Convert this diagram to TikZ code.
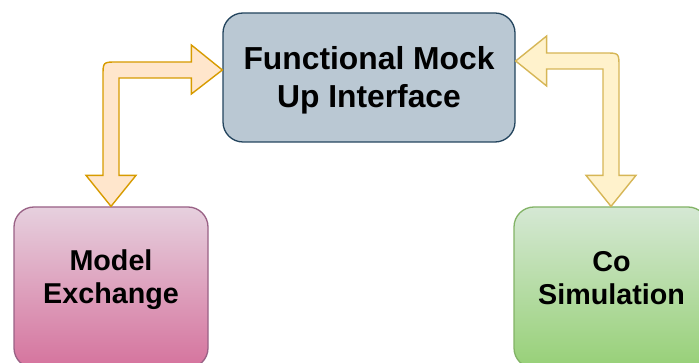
\documentclass[tikz,border=0pt]{standalone}
\usepackage{fontspec}
\setmainfont{Liberation Sans}
\usetikzlibrary{calc}

\definecolor{fmiFill}{HTML}{BAC8D3}
\definecolor{fmiLine}{HTML}{23445D}
\definecolor{mexTop}{HTML}{E6D0DE}
\definecolor{mexBot}{HTML}{D5739D}
\definecolor{mexLine}{HTML}{996185}
\definecolor{cosTop}{HTML}{D5E8D4}
\definecolor{cosBot}{HTML}{97D077}
\definecolor{cosLine}{HTML}{82B366}
\definecolor{peachFill}{HTML}{FFE6CC}
\definecolor{peachLine}{HTML}{D79B00}
\definecolor{sandFill}{HTML}{FFF2CC}
\definecolor{sandLine}{HTML}{D6B656}

\tikzset{
  box/.style={rectangle, rounded corners=20pt, inner sep=0pt, line width=1.3pt},
  bigtext/.style={anchor=base, inner sep=0pt, font=\fontsize{31.8}{38}\selectfont\bfseries},
  sidetext/.style={anchor=base, inner sep=0pt, font=\fontsize{28.7}{33}\selectfont\bfseries},
  flexL/.style={fill=peachFill, draw=peachLine, line width=1.4pt, line join=miter},
  flexR/.style={fill=sandFill, draw=sandLine, line width=1.4pt, line join=miter},
}

\begin{document}
\begin{tikzpicture}[x=1pt, y=-1pt]
\useasboundingbox (0,0) rectangle (699,363);
\begin{scope}
\clip (0,0) rectangle (699,363);

% the three blocks
\node[box, fill=fmiFill, draw=fmiLine, minimum width=292pt, minimum height=129pt] (fmi) at (369,77.5) {};
\node[box, top color=mexTop, bottom color=mexBot, draw=mexLine, minimum width=194pt, minimum height=161pt] (mex) at (111,287.5) {};
\node[box, top color=cosTop, bottom color=cosBot, draw=cosLine, minimum width=194pt, minimum height=161pt] (cos) at (611,287.5) {};

% block captions
\node[bigtext] (fmiA) at (369,69.5) {Functional Mock};
\node[bigtext] (fmiB) at (369,107.5) {Up Interface};
\node[sidetext] (mexA) at (111,271) {Model};
\node[sidetext] (mexB) at (111,304) {Exchange};
\node[sidetext] (cosA) at (611.5,272) {Co};
\node[sidetext] (cosB) at (611.5,305) {Simulation};

% double-headed bent block arrow: Model Exchange <-> FMI
\coordinate (ltipR) at (fmi.west |- 0,70);
\coordinate (ltipD) at (111,0 |- mex.north);
\coordinate (lbend) at (ltipD |- ltipR);
\draw[flexL] (ltipD) -- ++(25,-31) -- ++(-17,0)
  -- ($(lbend)+(8,8)$) -- ($(ltipR)+(-31,8)$) -- ++(0,16)
  -- (ltipR) -- ++(-31,-25) -- ++(0,17)
  -- ($(lbend)+(-8+14,-8)$) .. controls ($(lbend)+(-8,-8)$) .. ($(lbend)+(-8,-8+14)$)
  -- ($(ltipD)+(-8,-31)$) -- ++(-17,0) -- cycle;

% double-headed bent block arrow: FMI <-> Co Simulation
\coordinate (rtipL) at (fmi.east |- 0,61);
\coordinate (rtipD) at (611,0 |- cos.north);
\coordinate (rbend) at (rtipD |- rtipL);
\draw[flexR] (rtipL) -- ++(31,-25) -- ++(0,17)
  -- ($(rbend)+(8-14,-8)$) .. controls ($(rbend)+(8,-8)$) .. ($(rbend)+(8,-8+14)$)
  -- ($(rtipD)+(8,-31)$) -- ++(17,0) -- (rtipD) -- ++(-25,-31) -- ++(17,0)
  -- ($(rbend)+(-8,8)$) -- ($(rtipL)+(31,8)$) -- ++(0,17) -- cycle;
\end{scope}
\end{tikzpicture}
\end{document}
